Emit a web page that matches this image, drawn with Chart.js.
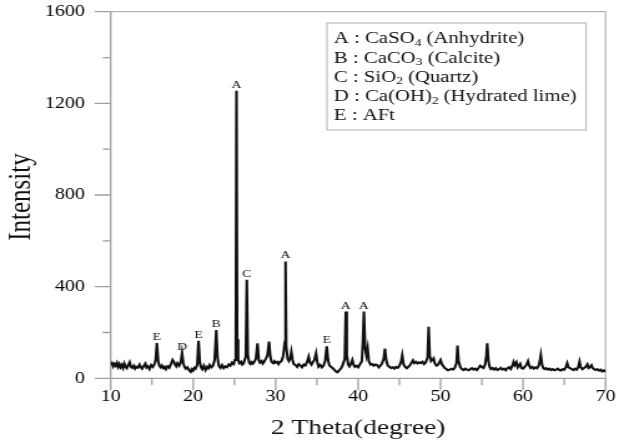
<!DOCTYPE html>
<html><head><meta charset="utf-8">
<script src="https://cdn.jsdelivr.net/npm/chart.js@4"></script>
<style>
html,body{margin:0;padding:0;background:#fff;overflow:hidden}
#wrap{width:500px;height:442px;transform:scaleX(1.248);transform-origin:0 0}
</style></head><body>
<div id="wrap"><canvas id="c" width="500" height="442"></canvas></div>
<script>
const twoTheta = [
10.0,10.15,10.3,10.45,10.6,10.75,10.9,11.05,11.2,11.35,11.5,11.65,11.8,11.95,12.1,12.3,12.45,12.6,12.8,12.95,
13.1,13.3,13.5,13.65,13.8,14.0,14.2,14.35,14.5,14.7,14.9,15.1,15.3,15.45,15.6,15.75,15.9,16.05,16.2,16.4,
16.55,16.7,16.9,17.1,17.3,17.5,17.65,17.8,17.95,18.1,18.3,18.5,18.65,18.8,18.95,19.1,19.3,19.5,19.7,19.85,
20.0,20.15,20.3,20.5,20.65,20.8,20.95,21.1,21.3,21.5,21.7,21.85,22.0,22.2,22.4,22.6,22.8,22.95,23.1,23.3,
23.5,23.7,23.9,24.1,24.3,24.5,24.7,24.9,25.05,25.17,25.25,25.33,25.45,25.6,25.8,25.95,26.1,26.38,26.5,26.62,
26.8,26.95,27.1,27.25,27.4,27.6,27.8,27.95,28.1,28.3,28.45,28.6,28.8,29.0,29.2,29.35,29.5,29.7,29.85,30.0,
30.2,30.35,30.5,30.7,30.9,31.12,31.2,31.28,31.45,31.6,31.75,31.9,32.05,32.2,32.4,32.6,32.8,33.0,33.2,33.4,
33.6,33.8,34.0,34.15,34.35,34.5,34.7,34.9,35.05,35.2,35.4,35.6,35.8,36.0,36.2,36.35,36.5,36.7,36.9,37.1,
37.3,37.5,37.7,37.9,38.1,38.38,38.5,38.62,38.8,38.95,39.1,39.3,39.45,39.6,39.8,40.0,40.2,40.45,40.58,40.7,
40.85,41.0,41.15,41.3,41.5,41.7,41.9,42.1,42.3,42.5,42.7,42.9,43.1,43.25,43.4,43.6,43.8,44.0,44.2,44.4,
44.6,44.8,45.0,45.2,45.35,45.5,45.7,45.9,46.1,46.3,46.5,46.65,46.8,47.0,47.2,47.4,47.6,47.8,48.0,48.2,
48.42,48.55,48.68,48.85,49.0,49.15,49.3,49.5,49.7,49.85,50.0,50.15,50.35,50.5,50.7,50.9,51.1,51.3,51.5,51.7,
51.92,52.05,52.18,52.4,52.6,52.8,53.0,53.2,53.4,53.6,53.8,54.0,54.2,54.4,54.6,54.8,55.0,55.2,55.4,55.55,
55.65,55.8,55.95,56.1,56.3,56.5,56.7,56.9,57.1,57.3,57.5,57.7,57.9,58.1,58.3,58.5,58.7,58.85,59.0,59.2,
59.35,59.5,59.65,59.8,60.0,60.2,60.4,60.6,60.75,60.9,61.1,61.3,61.5,61.7,61.9,62.05,62.15,62.3,62.45,62.6,
62.8,63.0,63.2,63.4,63.6,63.8,64.0,64.2,64.4,64.6,64.8,65.0,65.2,65.35,65.5,65.7,65.9,66.1,66.3,66.5,
66.7,66.85,67.0,67.2,67.4,67.6,67.8,67.95,68.1,68.3,68.45,68.6,68.8,69.0,69.2,69.4,69.6,69.8,70.0
];
const intensity = [
58,66,52,63,55,67,50,62,48,58,45,64,50,44,56,70,50,46,55,42,
50,46,60,48,42,54,64,47,52,40,58,50,62,80,154,75,55,48,56,44,
50,40,52,46,62,80,72,60,52,66,55,70,109,66,50,42,48,35,28,40,
34,46,42,60,164,72,48,40,55,36,50,44,58,48,55,80,211,90,55,46,
58,44,52,48,60,55,68,62,80,150,1255,170,80,66,72,60,65,95,430,100,
68,62,70,64,72,85,153,80,68,75,64,72,85,100,160,95,72,66,75,68,
72,62,70,75,95,160,510,140,85,75,85,116,80,62,58,50,62,55,48,60,
56,70,94,70,60,70,80,109,70,50,58,48,55,75,140,80,58,50,45,38,
30,26,35,42,55,85,291,100,60,52,62,80,58,50,55,48,60,75,160,291,
130,100,131,75,60,62,55,60,58,48,55,65,85,130,80,55,50,45,48,42,
50,46,55,72,100,62,50,44,50,58,70,78,66,72,65,70,66,72,62,70,
90,225,100,75,80,87,65,55,60,70,80,62,52,45,40,35,38,42,38,45,
65,143,75,48,40,36,42,38,35,40,44,38,42,36,45,55,50,45,60,100,
153,75,50,40,45,38,44,36,40,46,38,42,35,44,48,40,55,72,58,70,
48,55,63,45,42,50,58,75,55,45,50,42,48,44,55,80,102,60,45,40,
44,38,42,36,40,35,38,42,36,34,40,38,50,66,48,44,40,36,42,38,
50,73,48,40,45,50,61,45,48,57,44,40,36,40,34,38,30,35,28
];
const xTicks = [10, 20, 30, 40, 50, 60, 70];
const xMinorTicks = [15, 25, 35, 45, 55, 65];
const yTicks = [0, 400, 800, 1200, 1600];
const yMinorTicks = [200, 600, 1000, 1400];
const peakLetters = ['E', 'D', 'E', 'B', 'A', 'C', 'A', 'E', 'A', 'A'];
const peakTheta = [15.6, 18.65, 20.65, 22.8, 25.25, 26.5, 31.2, 36.2, 38.5, 40.7];
const peakIntensity = [154, 109, 164, 211, 1255, 430, 510, 140, 291, 291];
const legendMain = ['A : CaSO', 'B : CaCO', 'C : SiO', 'D : Ca(OH)', 'E : AFt'];
const legendSub = ['4', '3', '2', '2', ''];
const legendRest = [' (Anhydrite)', ' (Calcite)', ' (Quartz)', ' (Hydrated lime)', ''];
const xTitle = '2 Theta(degree)';
const yTitle = 'Intensity';

const SERIF = '"Liberation Serif", "Times New Roman", serif';

const deco = {
  id: 'deco',
  beforeDatasetsDraw(chart) {
    const ctx = chart.ctx, a = chart.chartArea, xs = chart.scales.x, ys = chart.scales.y;
    ctx.save();
    ctx.lineCap = 'butt';
    ctx.strokeStyle = '#b4b4b4';
    ctx.lineWidth = 1.2;
    ctx.beginPath();
    ctx.moveTo(a.left, a.top); ctx.lineTo(a.right, a.top); ctx.lineTo(a.right, a.bottom);
    ctx.stroke();
    ctx.strokeStyle = '#a0a0a0';
    ctx.lineWidth = 1.3;
    ctx.beginPath();
    ctx.moveTo(a.left, a.top); ctx.lineTo(a.left, a.bottom); ctx.lineTo(a.right, a.bottom);
    ctx.stroke();
    ctx.beginPath();
    yTicks.forEach(v => { const y = ys.getPixelForValue(v); ctx.moveTo(a.left - 12.8, y); ctx.lineTo(a.left, y); });
    yMinorTicks.forEach(v => { const y = ys.getPixelForValue(v); ctx.moveTo(a.left - 6.4, y); ctx.lineTo(a.left, y); });
    xTicks.forEach(v => { const x = xs.getPixelForValue(v); ctx.moveTo(x, a.bottom); ctx.lineTo(x, a.bottom + 12); });
    xMinorTicks.forEach(v => { const x = xs.getPixelForValue(v); ctx.moveTo(x, a.bottom); ctx.lineTo(x, a.bottom + 7); });
    ctx.stroke();
    ctx.restore();
  },
  afterDraw(chart) {
    const ctx = chart.ctx, a = chart.chartArea, xs = chart.scales.x, ys = chart.scales.y;
    ctx.save();
    ctx.fillStyle = '#111';
    ctx.font = '11px ' + SERIF;
    ctx.textAlign = 'center';
    ctx.textBaseline = 'alphabetic';
    peakLetters.forEach((t, i) => {
      ctx.fillText(t, xs.getPixelForValue(peakTheta[i]), ys.getPixelForValue(peakIntensity[i]) - 3);
    });
    ctx.font = '22px ' + SERIF;
    ctx.textBaseline = 'middle';
    ctx.fillText(xTitle, (a.left + a.right) / 2, 428);
    ctx.save();
    ctx.translate(17.6, (a.top + a.bottom) / 2 + 2);
    ctx.rotate(-Math.PI / 2);
    ctx.font = '25px ' + SERIF;
    ctx.fillText(yTitle, 0, 0);
    ctx.restore();
    const bx = 262, by = 23, bw = 207.6, bh = 107;
    ctx.fillStyle = '#fff';
    ctx.fillRect(bx, by, bw, bh);
    ctx.strokeStyle = '#b0b0b0';
    ctx.lineWidth = 1;
    ctx.strokeRect(bx, by, bw, bh);
    ctx.fillStyle = '#111';
    ctx.textAlign = 'left';
    ctx.textBaseline = 'middle';
    legendMain.forEach((m, i) => {
      const y = 39 + i * 19.25;
      let x = 267.6;
      ctx.font = '16.6px ' + SERIF;
      ctx.fillText(m, x, y);
      x += ctx.measureText(m).width;
      if (legendSub[i]) {
        ctx.font = '11px ' + SERIF;
        ctx.fillText(legendSub[i], x, y + 4);
        x += ctx.measureText(legendSub[i]).width;
      }
      ctx.font = '16.6px ' + SERIF;
      ctx.fillText(legendRest[i], x, y);
    });
    ctx.restore();
  }
};

const points = twoTheta.map((t, i) => ({ x: t, y: intensity[i] }));

new Chart(document.getElementById('c'), {
  type: 'line',
  data: { datasets: [{ data: points, borderColor: '#111', borderWidth: 2.1, pointRadius: 0, tension: 0, fill: false }] },
  options: {
    responsive: false,
    animation: false,
    devicePixelRatio: 1,
    layout: { padding: { left: 0, right: 14.8, top: 11.7, bottom: 0 } },
    plugins: { legend: { display: false }, tooltip: { enabled: false } },
    scales: {
      x: {
        type: 'linear', min: 10, max: 70,
        afterBuildTicks: s => { s.ticks = xTicks.map(v => ({ value: v })); },
        afterFit: s => { s.height = 63.7; s.paddingLeft = 0; s.paddingRight = 0; },
        grid: { display: false, drawTicks: false },
        border: { display: false },
        ticks: { padding: 9, color: '#000', font: { family: SERIF, size: 16 }, maxRotation: 0, autoSkip: false,
                 callback: v => String(v) }
      },
      y: {
        type: 'linear', min: 0, max: 1600,
        afterBuildTicks: s => { s.ticks = yTicks.map(v => ({ value: v })); },
        afterFit: s => { s.width = 88.7; s.paddingTop = 0; s.paddingBottom = 0; },
        grid: { display: false, drawTicks: false },
        border: { display: false },
        ticks: { padding: 20.6, color: '#000', font: { family: SERIF, size: 16 }, autoSkip: false,
                 callback: v => String(v) }
      }
    }
  },
  plugins: [deco]
});
</script>
</body></html>
